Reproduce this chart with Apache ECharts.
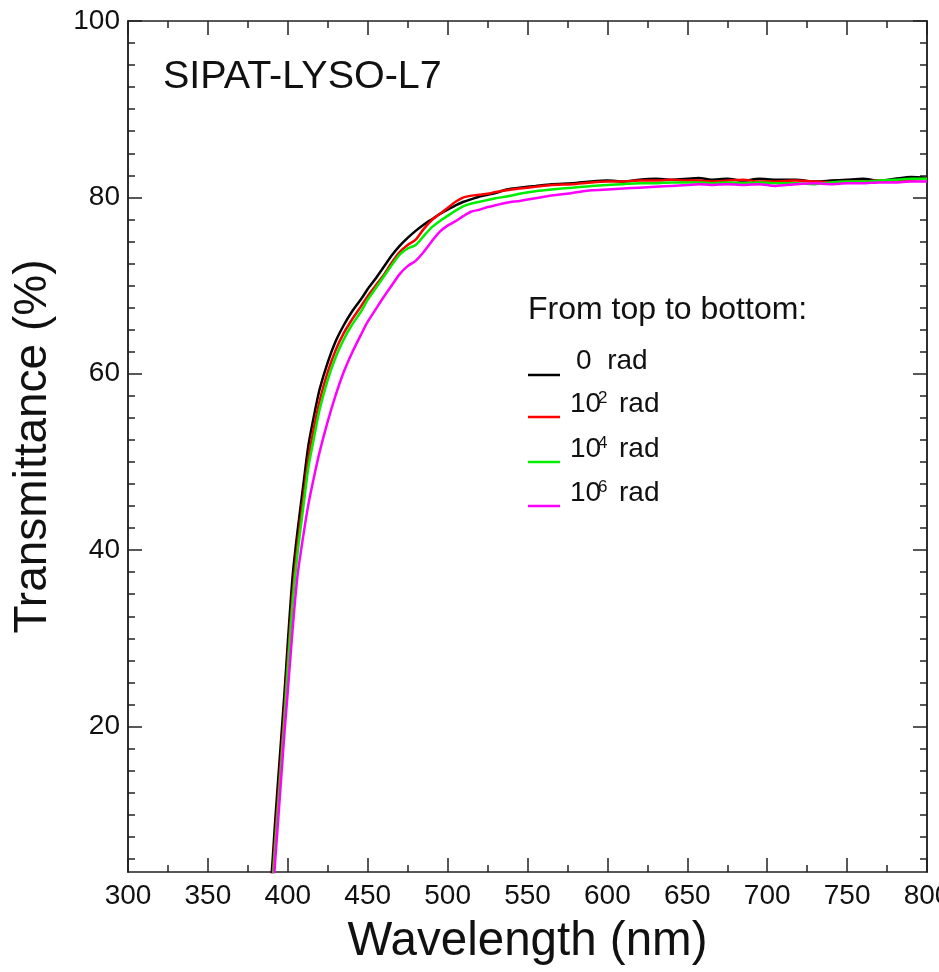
<!DOCTYPE html>
<html>
<head>
<meta charset="utf-8">
<script src="https://cdn.jsdelivr.net/npm/echarts@6/dist/echarts.min.js"></script>
<style>
html,body{margin:0;padding:0;background:#fff;}
#chart{width:939px;height:972px;}
</style>
</head>
<body>
<div id="chart"></div>
<script>
// Wavelength sample points (nm)
const wavelengths = [300,380,386,388,390,392,395,398,400,403,406,410,413,417,420,425,430,435,440,446,450,455,460,465,470,475,480,485,490,495,500,505,510,515,520,525,530,537,545,555,565,578,590,600,610,620,630,640,650,657,665,675,685,695,705,718,730,740,750,760,770,780,790,800];
// Transmittance (%) for each dose
const t0rad = [0,0,0,0.5,3.6,9,16.5,24,29.5,37,42,47.8,52,55.8,58.3,61.3,63.7,65.5,67,68.5,69.6,70.8,72.1,73.4,74.5,75.4,76.2,76.9,77.5,78.1,78.6,79.1,79.5,79.8,80.1,80.3,80.5,80.9,81.1,81.3,81.5,81.6,81.8,81.9,81.8,82.0,82.1,82.0,82.1,82.2,82.0,82.1,81.9,82.1,82.0,82.0,81.8,81.9,82.0,82.1,81.9,82.1,82.3,82.2];
const t1e2rad = [0,0,0,0,2,7,14.5,22,27.5,35,40.5,46.3,50.5,54.5,57.0,60.2,62.7,64.6,66.1,67.7,68.8,70.0,71.2,72.6,73.8,74.6,75.2,76.4,77.4,78.1,78.8,79.5,80.0,80.2,80.3,80.4,80.6,80.8,81.0,81.2,81.4,81.5,81.7,81.8,81.8,81.9,81.9,82.0,81.9,81.9,81.8,81.9,82.0,81.8,81.8,81.9,81.8,81.7,81.8,81.8,81.9,81.9,82.0,82.1];
const t1e4rad = [0,0,0,0,1.5,6,13.5,21,26.5,34,39.5,45.3,49.5,53.3,56.0,59.3,61.9,63.9,65.5,67.1,68.4,69.7,71.0,72.3,73.5,74.2,74.6,75.6,76.6,77.3,77.9,78.5,79.0,79.3,79.5,79.7,79.9,80.1,80.4,80.7,80.9,81.1,81.3,81.4,81.5,81.6,81.6,81.7,81.7,81.7,81.6,81.7,81.6,81.7,81.6,81.6,81.5,81.7,81.8,81.8,81.9,82.0,82.1,82.1];
const t1e6rad = [0,0,0,0,0,4.5,12,19.5,24,31,37,42,45.3,48.8,51.2,54.6,57.6,60.2,62.3,64.5,65.9,67.3,68.7,70,71.3,72.2,72.8,73.8,75.0,76.1,76.8,77.3,77.9,78.4,78.6,78.9,79.1,79.4,79.6,79.9,80.2,80.5,80.8,80.9,81.0,81.1,81.2,81.3,81.4,81.5,81.4,81.5,81.4,81.5,81.3,81.5,81.6,81.5,81.6,81.6,81.7,81.7,81.8,81.8];

const seriesNames = ['0 rad','10^2 rad','10^4 rad','10^6 rad'];
const seriesColors = ['#000000','#ff0000','#00ee00','#ff00ff'];
const seriesValues = [t0rad,t1e2rad,t1e4rad,t1e6rad];

const yMajorTicks = [20,40,60,80,100];
const yMinorTicks = [5,7.5,10,12.5,15,17.5,22.5,25,27.5,30,32.5,35,37.5,42.5,45,47.5,50,52.5,55,57.5,62.5,65,67.5,70,72.5,75,77.5,82.5,85,87.5,90,92.5,95,97.5];

const FONT = 'Liberation Sans, Arial, Helvetica, sans-serif';
const YMIN = 3.5, YMAX = 100;

const chart = echarts.init(document.getElementById('chart'), null, {renderer:'canvas'});

const axisLineStyle = {color:'#222', width:1.5};
function yAx(pos, ticks, len, labels) {
  return {
    type:'value', min:YMIN, max:YMAX, position:pos,
    axisLine:{show:true, onZero:false, lineStyle:axisLineStyle},
    axisTick:{show:true, inside:true, length:len, customValues:ticks, lineStyle:{color:'#222', width:1.5}},
    axisLabel:{show:labels, customValues:ticks, margin:8, color:'#111', fontSize:28, fontFamily:FONT},
    splitLine:{show:false},
    name: labels ? 'Transmittance (%)' : '',
    nameLocation:'middle', nameGap:72, nameRotate:90,
    nameTextStyle:{fontSize:46, color:'#111', fontFamily:FONT}
  };
}
function xAx(pos, labels) {
  return {
    type:'value', min:300, max:800, interval:50, position:pos,
    axisLine:{show:true, onZero:false, lineStyle:axisLineStyle},
    axisTick:{show:true, inside:true, length:14, lineStyle:{color:'#222', width:1.5}},
    minorTick:{show:true, splitNumber:2, length:7, lineStyle:{color:'#222', width:1.5}},
    axisLabel:{show:labels, margin:10, color:'#111', fontSize:28, fontFamily:FONT, showMaxLabel:true},
    splitLine:{show:false},
    name: labels ? 'Wavelength (nm)' : '',
    nameLocation:'middle', nameGap:46,
    nameTextStyle:{fontSize:47.5, color:'#111', fontFamily:FONT}
  };
}

const series = seriesValues.map((vals, i) => ({
  name: seriesNames[i], type:'line', xAxisIndex:0, yAxisIndex:0,
  data: wavelengths.map((w, j) => [w, vals[j]]),
  showSymbol:false, symbol:'none', clip:true,
  lineStyle:{color:seriesColors[i], width:2.5},
  itemStyle:{color:seriesColors[i]},
  smooth:0.25, animation:false
}));

// legend graphics
const legendRows = [
  {y:375, base:'0  rad', sup:null},
  {y:417, base:'10', sup:'2'},
  {y:462, base:'10', sup:'4'},
  {y:506, base:'10', sup:'6'}
];
const graphics = [
  {type:'text', left:163, top:57, style:{text:'SIPAT-LYSO-L7', font:'39.5px ' + FONT, fill:'#111'}},
  {type:'text', left:528, top:294, style:{text:'From top to bottom:', font:'32px ' + FONT, fill:'#111'}}
];
legendRows.forEach((r, i) => {
  graphics.push({type:'line', shape:{x1:528, y1:r.y, x2:560, y2:r.y}, style:{stroke:seriesColors[i], lineWidth:2.5}});
  if (r.sup === null) {
    graphics.push({type:'text', x:576, y:r.y, style:{text:r.base, font:'28px ' + FONT, fill:'#111', textVerticalAlign:'bottom'}});
  } else {
    graphics.push({type:'text', x:570, y:r.y+1, style:{text:r.base, font:'28px ' + FONT, fill:'#111', textVerticalAlign:'bottom'}});
    graphics.push({type:'text', x:598, y:r.y-10, style:{text:r.sup, font:'17px ' + FONT, fill:'#111', textVerticalAlign:'bottom'}});
    graphics.push({type:'text', x:619, y:r.y+1, style:{text:'rad', font:'28px ' + FONT, fill:'#111', textVerticalAlign:'bottom'}});
  }
});

chart.setOption({
  animation:false,
  backgroundColor:'#fff',
  grid:{left:128, right:12, top:21, bottom:100, containLabel:false, outerBoundsMode:'none'},
  xAxis:[xAx('bottom', true), xAx('top', false)],
  yAxis:[yAx('left', yMajorTicks, 14, true), yAx('left', yMinorTicks, 7, false), yAx('right', yMajorTicks, 14, false), yAx('right', yMinorTicks, 7, false)],
  series: series,
  graphic: graphics
});
</script>
</body>
</html>
